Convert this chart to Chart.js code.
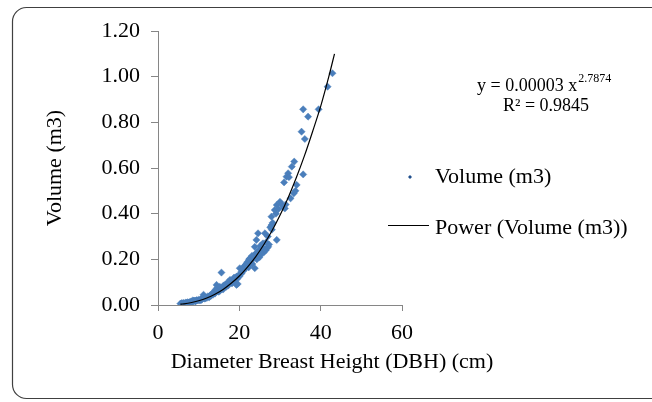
<!DOCTYPE html>
<html>
<head>
<meta charset="utf-8">
<script src="https://cdn.jsdelivr.net/npm/chart.js@4.4.1/dist/chart.umd.min.js"></script>
<style>
  html, body { margin: 0; padding: 0; background: #fff; overflow: hidden; }
  #wrap { width: 652px; height: 402px; position: relative; }
</style>
</head>
<body>
<div id="wrap"><canvas id="dbh_volume" width="652" height="402"></canvas></div>
<script>
const dbh = [
  5.5, 5.8, 6.0, 6.2, 6.5, 6.8, 7.0, 7.2, 7.5, 7.8, 8.0, 8.2, 8.5, 8.8, 9.0, 9.2, 9.5, 9.8,
  10.0, 10.3, 10.5, 10.8, 11.0, 11.2, 11.5, 11.8, 12.0, 12.3, 12.5, 12.8, 13.0, 13.2, 13.5,
  13.8, 14.0, 14.2, 14.4, 14.6, 14.8, 15.0, 15.3, 15.6, 15.5, 15.8, 16.0, 16.3, 16.5, 16.8,
  17.0, 17.3, 17.5, 17.7, 18.0, 18.2, 18.5, 18.7, 19.0, 19.3, 19.3, 19.5, 19.8, 20.0, 20.1,
  20.3, 20.6, 21.0, 21.2, 21.5, 21.8, 22.0, 22.3, 22.6, 22.8, 23.0, 23.2, 23.5, 23.8, 23.8,
  24.0, 24.2, 24.3, 24.6, 24.8, 25.0, 25.2, 25.5, 25.8, 26.0, 26.3, 26.5, 26.8, 27.1, 27.3,
  27.6, 27.9, 27.9, 28.2, 28.7, 29.0, 29.2, 29.2, 29.6, 30.0, 30.5, 31.0, 31.2, 31.4, 31.6,
  32.0, 32.6, 32.9, 33.4, 33.5, 33.8, 34.1, 35.3, 35.7, 35.7, 36.1, 36.9, 39.5, 41.7, 42.9,
  21.4, 22.1, 22.9, 23.4, 24.5, 25.3, 26.1, 16.1, 17.9, 18.9, 20.5, 12.6, 9.3, 7.6,
  8.6, 10.6, 11.6, 13.6, 14.5, 15.2, 16.6, 17.2, 18.4, 19.6, 20.8, 21.6, 22.4, 23.1,
  24.4, 25.6, 26.6, 27.0, 28.0, 30.8, 32.2
];
const volume = [
  0.006, 0.008, 0.005, 0.009, 0.007, 0.010, 0.008, 0.012, 0.011, 0.013, 0.012, 0.016, 0.014, 0.017, 0.019, 0.016, 0.021, 0.020,
  0.023, 0.020, 0.026, 0.024, 0.030, 0.045, 0.028, 0.034, 0.031, 0.038, 0.036, 0.042, 0.040, 0.048, 0.045,
  0.052, 0.050, 0.068, 0.088, 0.075, 0.060, 0.058, 0.065, 0.142, 0.070, 0.074, 0.068, 0.078, 0.082, 0.080,
  0.090, 0.086, 0.098, 0.110, 0.105, 0.095, 0.112, 0.120, 0.100, 0.124, 0.088, 0.115, 0.130, 0.125, 0.161,
  0.135, 0.140, 0.150, 0.170, 0.160, 0.183, 0.175, 0.165, 0.204, 0.190, 0.200, 0.180, 0.215, 0.255, 0.161,
  0.225, 0.285, 0.200, 0.314, 0.240, 0.210, 0.260, 0.226, 0.270, 0.230, 0.314, 0.240, 0.250, 0.255, 0.265,
  0.340, 0.387, 0.350, 0.360, 0.416, 0.400, 0.438, 0.285, 0.420, 0.452, 0.440, 0.537, 0.423, 0.440, 0.562,
  0.577, 0.467, 0.606, 0.489, 0.628, 0.500, 0.526, 0.759, 0.857, 0.572, 0.727, 0.825, 0.857, 0.956, 1.015,
  0.172, 0.190, 0.195, 0.205, 0.220, 0.235, 0.245, 0.085, 0.100, 0.115, 0.145, 0.034, 0.018, 0.010,
  0.020, 0.022, 0.030, 0.055, 0.062, 0.080, 0.090, 0.100, 0.105, 0.092, 0.155, 0.175, 0.200, 0.215,
  0.230, 0.250, 0.275, 0.300, 0.330, 0.430, 0.560
];
// power trendline points
const trendDbh    = [5.5, 6, 8, 10, 12, 14, 16, 18, 20, 22, 24, 26, 28, 30, 32, 34, 36, 38, 40, 42, 43.4];
const trendVolume = [0.0035, 0.0044, 0.0099, 0.0184, 0.0306, 0.047, 0.068, 0.095, 0.127, 0.166, 0.211, 0.264, 0.324, 0.393, 0.470, 0.557, 0.653, 0.759, 0.870, 1.000, 1.100];
const xTicks = [0, 20, 40, 60];
const yTicks = [0, 0.2, 0.4, 0.6, 0.8, 1.0, 1.2];

const toPoints = (xs, ys) => xs.map((x, i) => ({ x: x, y: ys[i] }));
const serif = "'Liberation Serif', 'Times New Roman', serif";

const frameAndText = {
  id: 'frameAndText',
  beforeDraw(chart) {
    const c = chart.ctx;
    c.save();
    c.fillStyle = '#fff';
    c.fillRect(0, 0, chart.width, chart.height);
    c.strokeStyle = '#404040';
    c.lineWidth = 1.2;
    c.beginPath();
    c.roundRect(12.5, 7.5, 700, 391, 14);
    c.stroke();
    c.restore();
  },
  afterDraw(chart) {
    const c = chart.ctx;
    c.save();
    c.fillStyle = '#000';
    c.textBaseline = 'middle';
    // axis titles
    c.font = '22px ' + serif;
    c.textAlign = 'center';
    c.fillText('Diameter Breast Height (DBH) (cm)', 332, 362);
    c.save();
    c.translate(55, 168);
    c.rotate(-Math.PI / 2);
    c.fillText('Volume (m3)', 0, 0);
    c.restore();
    // legend
    c.textAlign = 'left';
    c.fillText('Volume (m3)', 435, 177);
    c.fillText('Power (Volume (m3))', 435, 228);
    c.fillStyle = '#1f4e8c';
    c.beginPath();
    c.moveTo(410, 175); c.lineTo(412, 177); c.lineTo(410, 179); c.lineTo(408, 177);
    c.closePath(); c.fill();
    c.strokeStyle = '#000';
    c.lineWidth = 1;
    c.beginPath(); c.moveTo(388, 225.5); c.lineTo(429, 225.5); c.stroke();
    // trendline equation
    c.fillStyle = '#000';
    c.font = '18px ' + serif;
    const base = 'y = 0.00003 x';
    c.fillText(base, 477, 86);
    const w = c.measureText(base).width;
    c.font = '12px ' + serif;
    c.fillText('2.7874', 477 + w + 1, 79);
    c.font = '18px ' + serif;
    c.textAlign = 'center';
    c.fillText('R\u00b2 = 0.9845', 546, 106);
    c.restore();
  }
};

const ctx = document.getElementById('dbh_volume').getContext('2d');
const chart = new Chart(ctx, {
  type: 'scatter',
  data: {
    datasets: [
      {
        label: 'Volume (m3)',
        data: toPoints(dbh, volume),
        backgroundColor: '#4a7ebb',
        borderColor: 'rgba(74,126,187,0.45)',
        pointStyle: 'rectRot',
        pointRadius: 3.6,
        borderWidth: 1,
        order: 2
      },
      {
        label: 'Power (Volume (m3))',
        data: toPoints(trendDbh, trendVolume),
        showLine: true,
        borderColor: '#000',
        borderWidth: 1.2,
        pointRadius: 0,
        tension: 0.3,
        order: 1
      }
    ]
  },
  plugins: [frameAndText],
  options: {
    responsive: false,
    animation: false,
    layout: { padding: { left: 0, top: 31, right: 250, bottom: 0 } },
    plugins: {
      legend: { display: false },
      tooltip: { enabled: false }
    },
    scales: {
      x: {
        type: 'linear',
        min: 0,
        max: 60,
        afterBuildTicks(scale) { scale.ticks = xTicks.map(v => ({ value: v })); },
        afterFit(scale) { scale.height = 97; },
        border: { color: '#868686', width: 1 },
        grid: { drawOnChartArea: false, drawTicks: true, tickLength: 6, color: '#868686' },
        ticks: {
          color: '#000',
          padding: 9,
          font: { family: serif, size: 22 },
          callback: v => v
        }
      },
      y: {
        type: 'linear',
        min: 0,
        max: 1.2,
        afterBuildTicks(scale) { scale.ticks = yTicks.map(v => ({ value: v })); },
        afterFit(scale) { scale.width = 158; },
        border: { color: '#868686', width: 1 },
        grid: { drawOnChartArea: false, drawTicks: true, tickLength: 7, color: '#868686' },
        ticks: {
          color: '#000',
          padding: 11,
          font: { family: serif, size: 22 },
          callback: v => Number(v).toFixed(2)
        }
      }
    }
  }
});
</script>
</body>
</html>
